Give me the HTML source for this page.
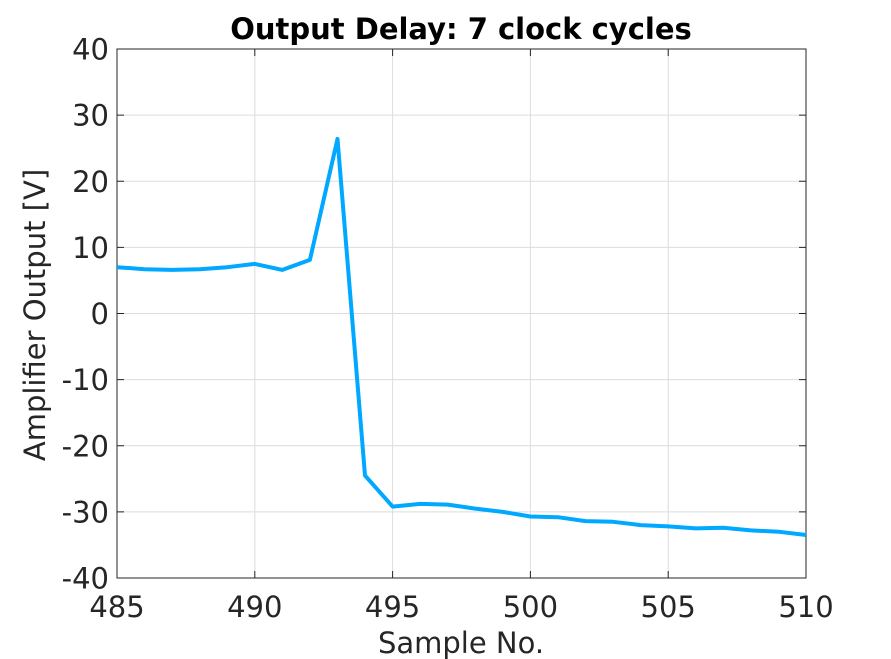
<!DOCTYPE html>
<html><head><meta charset="utf-8"><style>
html,body{margin:0;padding:0;background:#fff;}
svg{display:block;font-family:"DejaVu Sans","Liberation Sans",sans-serif;}
</style></head><body>
<svg id="chart" width="891" height="659">
<rect x="0" y="0" width="891" height="659" fill="#fff"/>
<g id="grid"></g>
<g id="axes"></g>
<g id="series"></g>
<text x="461" y="39" text-anchor="middle" font-size="29" font-weight="bold" fill="#000">Output Delay: 7 clock cycles</text>
<text x="461" y="653" text-anchor="middle" font-size="29" fill="#262626">Sample No.</text>
<text transform="translate(45,315) rotate(-90)" text-anchor="middle" font-size="29" fill="#262626">Amplifier Output [V]</text>
</svg>
<script>
const xValues = [485,486,487,488,489,490,491,492,493,494,495,496,497,498,499,500,501,502,503,504,505,506,507,508,509,510];
const yValues = [7.0,6.7,6.6,6.7,7.0,7.5,6.6,8.1,26.4,-24.5,-29.2,-28.8,-28.9,-29.5,-30.0,-30.7,-30.8,-31.4,-31.5,-32.0,-32.2,-32.5,-32.4,-32.8,-33.0,-33.5];
const xTicks = [485,490,495,500,505,510];
const yTicks = [-40,-30,-20,-10,0,10,20,30,40];

const L=117,R=806,T=49,B=578;
const xs=v=>L+(v-485)/(510-485)*(R-L);
const ys=v=>B-(v+40)/80*(B-T);
const NS="http://www.w3.org/2000/svg";
function mk(tag,attrs,parent){const e=document.createElementNS(NS,tag);for(const k in attrs)e.setAttribute(k,attrs[k]);parent.appendChild(e);return e;}
const grid=document.getElementById('grid'),axes=document.getElementById('axes'),series=document.getElementById('series');
xTicks.forEach(t=>{
  const g=mk('line',{x1:xs(t),x2:xs(t),y1:T,y2:B,stroke:'#dcdcdc','stroke-width':1},grid);
  
  
  mk('line',{x1:xs(t),x2:xs(t),y1:B,y2:B-7,stroke:'#262626'},axes);
  mk('line',{x1:xs(t),x2:xs(t),y1:T,y2:T+7,stroke:'#262626'},axes);
  const tx=mk('text',{x:xs(t),y:B+39,'text-anchor':'middle','font-size':29,fill:'#262626'},axes);
  tx.textContent=t;
  
  
});
yTicks.forEach(t=>{
  const g=mk('line',{x1:L,x2:R,y1:ys(t),y2:ys(t),stroke:'#dcdcdc','stroke-width':1},grid);
  
  
  mk('line',{x1:L,x2:L+7,y1:ys(t),y2:ys(t),stroke:'#262626'},axes);
  mk('line',{x1:R,x2:R-7,y1:ys(t),y2:ys(t),stroke:'#262626'},axes);
  const tx=mk('text',{x:L-8,y:ys(t)+10.5,'text-anchor':'end','font-size':29,fill:'#262626'},axes);
  tx.textContent=t;
  
  
});
const box=mk('rect',{x:L,y:T,width:R-L,height:B-T,fill:'none',stroke:'#262626','stroke-width':1},axes);


const pts=xValues.map((x,i)=>xs(x).toFixed(1)+','+ys(yValues[i]).toFixed(1)).join(' ');
const line=mk('polyline',{points:pts,fill:'none',stroke:'#00a8ff','stroke-width':4,'stroke-linejoin':'round'},series);


</script>
</body></html>
